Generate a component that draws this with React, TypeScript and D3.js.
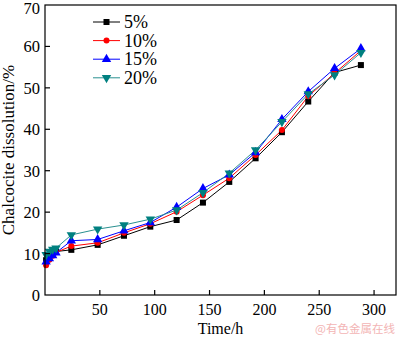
import React from "react";
import * as d3 from "d3";

const times = [1, 4, 7, 10, 24, 48, 72, 96, 120, 144, 168, 192, 216, 240, 264, 288];
const s5 = [8.4, 9.5, 10.0, 10.5, 10.9, 12.1, 14.3, 16.5, 18.1, 22.3, 27.3, 33.0, 39.3, 46.7, 53.7, 55.5];
const s10 = [7.2, 8.5, 9.5, 10.3, 11.8, 12.6, 15.0, 17.2, 20.1, 24.1, 28.2, 33.8, 39.8, 48.0, 53.5, 59.0];
const s15 = [8.0, 8.8, 9.5, 10.2, 13.1, 13.4, 15.5, 17.5, 21.2, 25.7, 29.0, 34.4, 42.4, 49.1, 54.7, 59.5];
const s20 = [9.7, 10.5, 11.0, 11.3, 14.5, 15.9, 16.9, 18.3, 20.5, 24.7, 29.4, 35.0, 41.8, 48.5, 53.1, 58.5];
const seriesNames = ["5%", "10%", "15%", "20%"];
const seriesColors = ["#000000", "#ff0000", "#0000ff", "#008080"];
const seriesLineColors = ["#000000", "#ff0000", "#0000ff", "#2a9090"];
const seriesShapes = ["square", "circle", "triangle", "triangleDown"];
const xTicks = [50, 100, 150, 200, 250, 300];
const yTicks = [0, 10, 20, 30, 40, 50, 60, 70];

const W = 400, H = 337;
const m = { left: 45, right: 396, top: 5, bottom: 295 };

function Marker({ shape, x, y, color }: { shape: string; x: number; y: number; color: string }) {
  if (shape === "square") return <rect x={x - 3} y={y - 3} width={6} height={6} fill={color} />;
  if (shape === "circle") return <circle cx={x} cy={y} r={3} fill={color} />;
  const sym = d3.symbol().type(d3.symbolTriangle).size(38)();
  const rot = shape === "triangleDown" ? 180 : 0;
  return <path d={sym || ""} transform={`translate(${x},${y}) rotate(${rot})`} fill={color} />;
}

export default function App() {
  const x = d3.scaleLinear().domain([0, 320]).range([m.left, m.right]);
  const y = d3.scaleLinear().domain([0, 70]).range([m.bottom, m.top]);
  const all = [s5, s10, s15, s20];
  const line = d3.line<[number, number]>().x((d) => x(d[0])).y((d) => y(d[1]));
  const font = "'Liberation Serif', 'Times New Roman', serif";
  return (
    <div style={{ position: "fixed", left: 0, top: 0 }}>
      <svg width={W} height={H} style={{ display: "block", background: "#fff" }} fontFamily={font}>
        <rect x={0} y={0} width={W} height={H} fill="#fff" />
        {all.map((s, i) => (
          <path key={"l" + i} d={line(times.map((t, j) => [t, s[j]] as [number, number])) || ""} fill="none" stroke={seriesLineColors[i]} strokeWidth={1} />
        ))}
        {all.map((s, i) =>
          times.map((t, j) => <Marker key={`m${i}-${j}`} shape={seriesShapes[i]} x={x(t)} y={y(s[j])} color={seriesColors[i]} />)
        )}
        <rect x={m.left} y={m.top} width={m.right - m.left} height={m.bottom - m.top} fill="none" stroke="#000" strokeWidth={1.2} />
        {xTicks.map((t) => (
          <g key={"xt" + t}>
            <line x1={x(t)} x2={x(t)} y1={m.bottom} y2={m.bottom - 5} stroke="#000" strokeWidth={1.2} />
            <text x={x(t)} y={315} textAnchor="middle" fontSize={16}>{t}</text>
          </g>
        ))}
        {yTicks.map((t) => (
          <g key={"yt" + t}>
            {t > 0 && t < 70 && <line x1={m.left} x2={m.left + 5} y1={y(t)} y2={y(t)} stroke="#000" strokeWidth={1.2} />}
            <text x={40} y={t === 70 ? 14 : y(t) + 6} textAnchor="end" fontSize={16.5}>{t}</text>
          </g>
        ))}
        <text x={x(160)} y={333.5} textAnchor="middle" fontSize={16}>Time/h</text>
        <text transform={`translate(14,${(m.top + m.bottom) / 2}) rotate(-90)`} textAnchor="middle" fontSize={17}>Chalcocite dissolution/%</text>
        {seriesNames.map((n, i) => {
          const ly = 22 + i * 18.6;
          return (
            <g key={"lg" + i}>
              <line x1={93} x2={120} y1={ly} y2={ly} stroke={seriesLineColors[i]} strokeWidth={1} />
              <Marker shape={seriesShapes[i]} x={106.5} y={ly} color={seriesColors[i]} />
              <text x={124} y={ly + 6} fontSize={18}>{n}</text>
            </g>
          );
        })}
        <text x={395} y={333} textAnchor="end" fontSize={11.5} fill="#f3b5b5" fontFamily="'Noto Sans CJK SC', sans-serif">@有色金属在线</text>
      </svg>
    </div>
  );
}
